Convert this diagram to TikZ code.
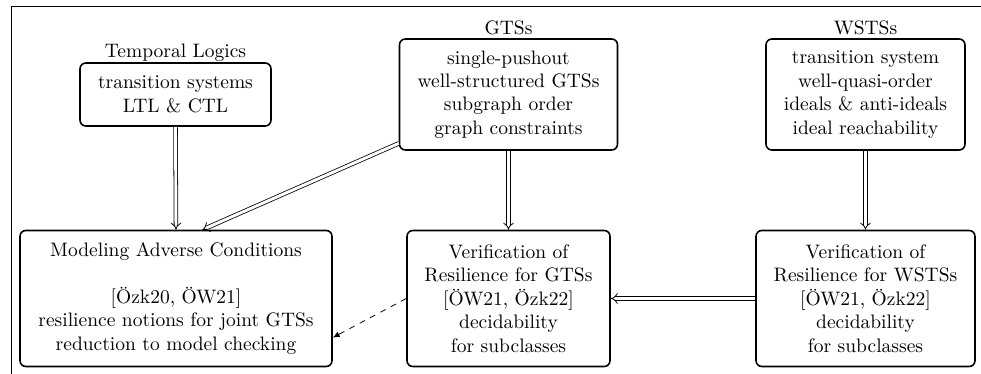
\documentclass[tikz,border=0pt]{standalone}
\usetikzlibrary{arrows.meta}
\begin{document}
\begin{tikzpicture}[
  x=0.5128pt, y=-0.5128pt,
  box/.style={draw, thick, rounded corners=3pt, align=center, inner sep=0pt},
  title/.style={anchor=base, inner sep=0pt},
  dbl/.style={double, double distance=1.5pt, -{Implies}},
  dep/.style={dashed, -{Latex[length=3.5pt,width=3pt]}},
]
\useasboundingbox (0,0) rectangle (981,374);

% partial frame
\draw (981,6.5) -- (11,6.5) -- (11,374);

% upper row
\node[box, minimum width=191*0.5128pt, minimum height=63*0.5128pt] (tl) at (175.5,94.5)
  {transition systems\\ LTL \& CTL};
\node[box, minimum width=218*0.5128pt, minimum height=111*0.5128pt] (gts) at (508.5,94.5)
  {single-pushout\\ well-structured GTSs\\ subgraph order\\ graph constraints};
\node[box, minimum width=199*0.5128pt, minimum height=111*0.5128pt] (wsts) at (865.5,94.5)
  {transition system\\ well-quasi-order\\ ideals \& anti-ideals\\ ideal reachability};

\node[title] (tltitle) at (175.5,57.5) {Temporal Logics};
\node[title] (gtstitle) at (508.5,34.5) {GTSs};
\node[title] (wststitle) at (865.5,34.5) {WSTSs};

% lower row
\node[box, minimum width=312*0.5128pt, minimum height=136*0.5128pt] (mac) at (176,298.5)
  {Modeling Adverse Conditions\\ ~\\ {}[Özk20, ÖW21]\\ resilience notions for joint GTSs\\ reduction to model checking};
\node[box, minimum width=203*0.5128pt, minimum height=136*0.5128pt] (vgts) at (508.5,298.5)
  {Verification of\\ Resilience for GTSs\\ {}[ÖW21, Özk22]\\ decidability\\ for subclasses};
\node[box, minimum width=219*0.5128pt, minimum height=136*0.5128pt] (vwsts) at (865.5,298.5)
  {Verification of\\ Resilience for WSTSs\\ {}[ÖW21, Özk22]\\ decidability\\ for subclasses};

% connectors
\draw[dbl] (tl.south) -- (mac.north);
\draw[dbl] (gts.204) -- (mac.69);
\draw[dbl] (gts.south) -- (vgts.north);
\draw[dbl] (wsts.south) -- (vwsts.north);
\draw[dbl] (vwsts.west) -- (vgts.east);
\draw[dep] (vgts.west) -- (mac.-14);
\end{tikzpicture}
\end{document}
